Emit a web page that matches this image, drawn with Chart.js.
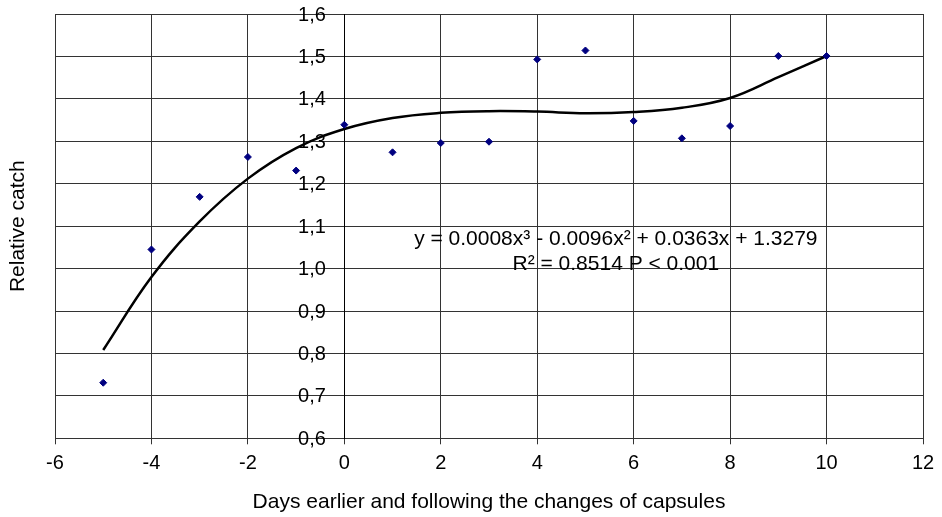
<!DOCTYPE html>
<html>
<head>
<meta charset="utf-8">
<script src="https://cdn.jsdelivr.net/npm/chart.js@4/dist/chart.umd.min.js"></script>
<style>
body { margin: 0; background: #fff; }
</style>
</head>
<body>
<canvas id="chart" width="942" height="517"></canvas>
<script>
// Data
const days = [-5, -4, -3, -2, -1, 0, 1, 2, 3, 4, 5, 6, 7, 8, 9, 10];
const relativeCatch = [0.731, 1.045, 1.169, 1.263, 1.231, 1.339, 1.274, 1.296, 1.299, 1.493, 1.514, 1.348, 1.307, 1.336, 1.501, 1.501];
// fitted cubic trend, as drawn in the picture
const trendCatch = [0.808, 0.980, 1.111, 1.212, 1.284, 1.329, 1.355, 1.367, 1.371, 1.370, 1.366, 1.369, 1.379, 1.402, 1.451, 1.501];
const equationLines = ['y = 0.0008x\u00b3 - 0.0096x\u00b2 + 0.0363x + 1.3279', 'R\u00b2 = 0.8514 P < 0.001'];
const xTitle = 'Days earlier and following the changes of capsules';
const yTitle = 'Relative catch';

const fontFamily = '"Liberation Sans", Arial, sans-serif';

function toPoints(xs, ys) {
    return xs.map((x, i) => ({ x: x, y: ys[i] }));
}

function commaLabel(v) {
    return v.toFixed(1).replace('.', ',');
}

// Extra text: y tick labels (left of the axis at x = 0), y title and the equation
const textPlugin = {
    id: 'textPlugin',
    afterDraw(chart) {
        const ctx = chart.ctx;
        const area = chart.chartArea;
        const xScale = chart.scales.x;
        const yScale = chart.scales.y;
        ctx.save();
        ctx.fillStyle = '#000';

        // y tick labels
        const axisX = xScale.getPixelForValue(0);
        ctx.font = '20px ' + fontFamily;
        ctx.textAlign = 'right';
        ctx.textBaseline = 'middle';
        yScale.ticks.forEach(t => {
            ctx.fillText(commaLabel(t.value), axisX - 18.5, yScale.getPixelForValue(t.value) + 1);
        });

        ctx.font = '21px ' + fontFamily;
        ctx.textAlign = 'center';

        // y title
        ctx.save();
        ctx.translate(18, (area.top + area.bottom) / 2);
        ctx.rotate(-Math.PI / 2);
        ctx.fillText(yTitle, 0, 0);
        ctx.restore();

        // equation
        const cx = xScale.getPixelForValue(5.63);
        const cy = yScale.getPixelForValue(1.0685);
        equationLines.forEach((line, i) => {
            ctx.fillText(line, cx, cy + i * 25);
        });
        ctx.restore();
    }
};

const ctx = document.getElementById('chart').getContext('2d');
new Chart(ctx, {
    type: 'scatter',
    data: {
        datasets: [{
            label: 'Relative catch',
            data: toPoints(days, relativeCatch),
            backgroundColor: '#000080',
            borderColor: '#000080',
            pointStyle: 'rectRot',
            pointRadius: 3.5,
            showLine: false
        }, {
            label: 'Trend',
            type: 'line',
            data: toPoints(days, trendCatch),
            borderColor: '#000',
            borderWidth: 2.5,
            pointRadius: 0,
            tension: 0.4,
            fill: false
        }]
    },
    options: {
        responsive: false,
        animation: false,
        devicePixelRatio: 1,
        layout: {
            padding: { left: 55, right: 19, top: 14, bottom: 0 }
        },
        plugins: {
            legend: { display: false },
            tooltip: { enabled: false }
        },
        scales: {
            x: {
                type: 'linear',
                position: 'bottom',
                min: -6,
                max: 12,
                ticks: {
                    stepSize: 2,
                    color: '#000',
                    padding: 7.5,
                    font: { family: fontFamily, size: 20 }
                },
                grid: { color: '#333', lineWidth: 1, tickLength: 6 },
                border: { color: '#333', width: 1 },
                title: {
                    display: true,
                    text: xTitle,
                    color: '#000',
                    font: { family: fontFamily, size: 21 },
                    padding: { top: 6.5, bottom: 2 }
                }
            },
            y: {
                type: 'linear',
                position: { x: 0 },
                min: 0.6,
                max: 1.6,
                ticks: {
                    stepSize: 0.1,
                    display: false
                },
                grid: { color: '#333', lineWidth: 1, tickLength: 5 },
                border: { color: '#000', width: 1 }
            }
        }
    },
    plugins: [textPlugin]
});
</script>
</body>
</html>
